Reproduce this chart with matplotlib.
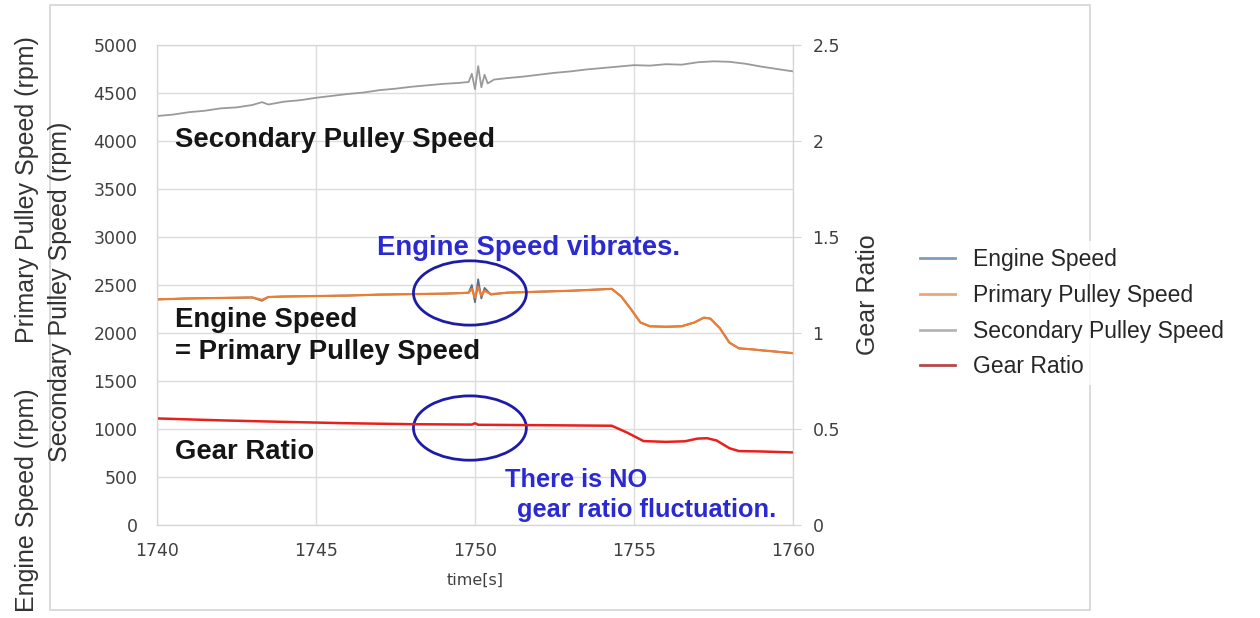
import matplotlib
matplotlib.use('Agg')
import matplotlib.pyplot as plt
from matplotlib.patches import Ellipse, Rectangle
from matplotlib.lines import Line2D
from matplotlib.ticker import FuncFormatter

# --- data ---
sec_t = [1740, 1740.5, 1741, 1741.5, 1742, 1742.5, 1743, 1743.3, 1743.5, 1744,
         1744.5, 1745, 1745.5, 1746, 1746.5, 1747, 1747.5, 1748, 1748.5, 1749,
         1749.5, 1749.8, 1749.9, 1750.0, 1750.1, 1750.2, 1750.3, 1750.4, 1750.6,
         1751, 1751.5, 1752, 1752.5, 1753, 1753.5, 1754, 1754.5, 1755, 1755.5,
         1756, 1756.5, 1757, 1757.5, 1758, 1758.5, 1759, 1759.5, 1760]
sec_rpm = [4260, 4275, 4300, 4315, 4340, 4350, 4375, 4405, 4380, 4410,
           4425, 4450, 4470, 4490, 4505, 4530, 4545, 4565, 4580, 4595,
           4605, 4615, 4700, 4540, 4780, 4560, 4690, 4600, 4640,
           4655, 4670, 4690, 4710, 4725, 4745, 4760, 4775, 4790, 4785,
           4800, 4795, 4820, 4830, 4825, 4805, 4775, 4750, 4725]

pri_t = [1740, 1741, 1742, 1743, 1743.3, 1743.5, 1744, 1745, 1746, 1747, 1748,
         1749, 1749.5, 1749.8, 1749.9, 1750.0, 1750.1, 1750.2, 1750.3, 1750.5,
         1751, 1752, 1753, 1754, 1754.3, 1754.6, 1754.9, 1755.2, 1755.5, 1756,
         1756.5, 1756.9, 1757.2, 1757.4, 1757.7, 1758, 1758.3, 1758.7, 1759,
         1759.5, 1760]
engine_rpm = [2350, 2360, 2365, 2370, 2335, 2375, 2380, 2385, 2390, 2400, 2405,
              2410, 2415, 2420, 2500, 2320, 2560, 2360, 2470, 2400,
              2420, 2430, 2440, 2455, 2460, 2380, 2250, 2110, 2070, 2065,
              2070, 2110, 2160, 2150, 2050, 1900, 1840, 1830, 1820,
              1805, 1790]
primary_rpm = [2350, 2360, 2365, 2370, 2345, 2375, 2380, 2385, 2390, 2400, 2405,
               2410, 2415, 2420, 2460, 2370, 2480, 2390, 2440, 2405,
               2420, 2430, 2440, 2455, 2460, 2380, 2250, 2110, 2070, 2065,
               2070, 2110, 2160, 2150, 2050, 1900, 1840, 1830, 1820,
               1805, 1790]

gr_t = [1740, 1742, 1744, 1746, 1748, 1749.9, 1750.0, 1750.1, 1752, 1753.5,
        1754.3, 1754.8, 1755.3, 1756, 1756.6, 1757, 1757.3, 1757.6, 1758,
        1758.3, 1759, 1760]
gear_ratio = [0.555, 0.545, 0.537, 0.530, 0.525, 0.523, 0.530, 0.522, 0.520, 0.518,
              0.517, 0.480, 0.437, 0.433, 0.436, 0.450, 0.452, 0.440, 0.400,
              0.385, 0.383, 0.378]

legend_labels = ['Engine Speed', 'Primary Pulley Speed', 'Secondary Pulley Speed', 'Gear Ratio']
legend_colors = ['#7f9cc0', '#e9a77a', '#b4b4b4', '#b5494a']

plt.rcParams['font.family'] = ['Liberation Sans', 'DejaVu Sans']

W, H = 1260, 618
fig = plt.figure(figsize=(W / 100, H / 100), dpi=100)
fig.patches.append(Rectangle((50 / W, 1 - 610 / H), 1040 / W, 605 / H,
                             transform=fig.transFigure, fill=False,
                             edgecolor='#d4d4d4', lw=1.2, zorder=0))

ax1 = fig.add_axes([157 / W, 1 - 525 / H, 636 / W, 480 / H])
ax2 = ax1.twinx()

ax1.plot(sec_t, sec_rpm, color='#9a9a9a', lw=1.3)
ax1.plot(pri_t, engine_rpm, color='#5d7088', lw=1.3)
ax1.plot(pri_t, primary_rpm, color='#ed7d31', lw=1.6)
ax2.plot(gr_t, gear_ratio, color='#e8201c', lw=1.8)

ax1.set_xlim(1740, 1760)
ax1.set_ylim(0, 5000)
ax2.set_ylim(0, 2.5)
ax1.set_xticks([1740, 1745, 1750, 1755, 1760])
ax1.set_yticks(range(0, 5001, 500))
ax2.set_yticks([0, 0.5, 1, 1.5, 2, 2.5])
ax2.yaxis.set_major_formatter(FuncFormatter(lambda v, p: '%g' % v))

ax1.grid(True, color='#dcdcdc', lw=1)
for ax in (ax1, ax2):
    for s in ax.spines.values():
        s.set_color('#d4d4d4')
ax1.tick_params(axis='y', length=0, pad=14, labelsize=12.5, labelcolor='#404040')
ax1.tick_params(axis='x', length=0, pad=12, labelsize=12.5, labelcolor='#404040')
ax2.tick_params(axis='y', length=6, color='#d4d4d4', pad=8, labelsize=12.5,
                labelcolor='#404040')
for lab in ax1.get_xticklabels() + ax1.get_yticklabels() + ax2.get_yticklabels():
    lab.set_family('DejaVu Sans')

# annotations
bold = dict(fontsize=19.8, fontweight='bold', va='center', ha='left')
ax1.text(1740.57, 4010, 'Secondary Pulley Speed', color='#151515', **bold)
ax1.text(1740.57, 2135, 'Engine Speed', color='#151515', **bold)
ax1.text(1740.57, 1802, '= Primary Pulley Speed', color='#151515', **bold)
ax1.text(1740.57, 760, 'Gear Ratio', color='#151515', **bold)
ax1.text(1746.92, 2885, 'Engine Speed vibrates.', color='#2a2ad0', **bold)
ax1.text(1750.94, 469, 'There is NO', color='#2a2ad0', **dict(bold, fontsize=18.3))
ax1.text(1751.32, 156, 'gear ratio fluctuation.', color='#2a2ad0', **dict(bold, fontsize=18.3))

for cy in (2417, 1010):
    ax2.add_patch(Ellipse((1749.84, cy), 3.55, 670, transform=ax1.transData,
                          fill=False, edgecolor='#1c1ca8', lw=2))

# axis titles
lab = dict(rotation=90, ha='center', va='center', fontsize=18, color='#333333')
fig.text(27 / W, 1 - 190 / H, 'Primary Pulley Speed (rpm)', **lab)
fig.text(27 / W, 1 - 500 / H, 'Engine Speed (rpm)', **lab)
fig.text(60 / W, 1 - 292 / H, 'Secondary Pulley Speed (rpm)', **lab)
fig.text(868 / W, 1 - 295 / H, 'Gear Ratio', **lab)
fig.text(475 / W, 1 - 580 / H, 'time[s]', ha='center', va='center',
         fontsize=11.5, color='#404040', family='DejaVu Sans')

handles = [Line2D([], [], color=c, lw=2) for c in legend_colors]
leg = fig.legend(handles, legend_labels, loc='upper left',
                 bbox_to_anchor=(902 / W, 1 - 230 / H), fontsize=16.5,
                 frameon=True, handlelength=1.5, handletextpad=0.8,
                 labelspacing=0.55, borderpad=0.3)
leg.get_frame().set_facecolor('white')
leg.get_frame().set_edgecolor('none')
leg.set_zorder(5)
for t in leg.get_texts():
    t.set_color('#262626')

fig.savefig('out.png', dpi=100)
